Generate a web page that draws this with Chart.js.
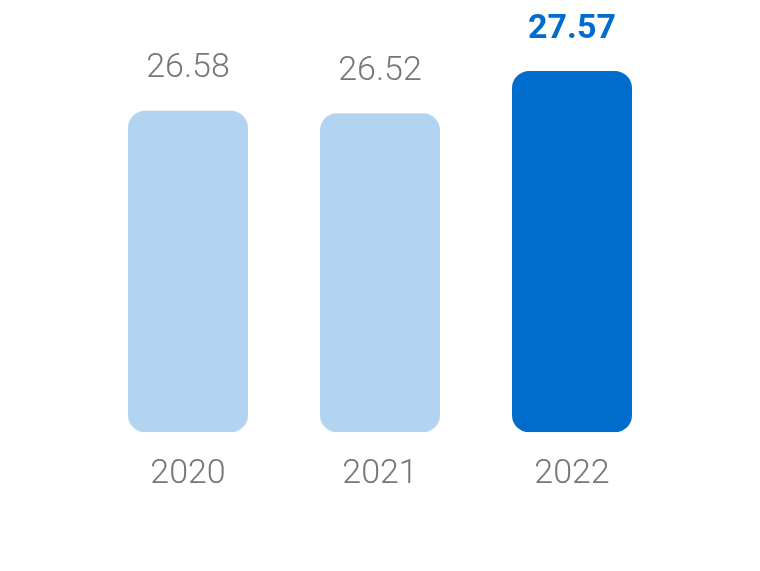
<!DOCTYPE html>
<html>
<head>
<meta charset="utf-8">
<script src="https://cdn.jsdelivr.net/npm/chart.js@4/dist/chart.umd.min.js"></script>
<style>
  html, body { margin: 0; padding: 0; background: #fff; }
  #wrap { width: 760px; height: 571px; }
</style>
</head>
<body>
<div id="wrap"><canvas id="chart"></canvas></div>
<script>
// --- données ---
const years = ['2020', '2021', '2022'];
const values = [26.58, 26.52, 27.57];
const valueLabels = ['26.58', '26.52', '27.57'];
const highlight = [false, false, true];

// axe tronqué (comme l'original)
const yMin = 18.57;
const yMax = 28.57;

const lightBlue = '#b3d4f0';
const darkBlue = '#006dcc';
const grey = '#767676';
const fontFamily = 'Roboto, "Open Sans", sans-serif';

// étiquettes au-dessus des barres
const valueLabelPlugin = {
  id: 'valueLabels',
  afterDatasetsDraw(chart) {
    const ctx = chart.ctx;
    const meta = chart.getDatasetMeta(0);
    ctx.save();
    ctx.textAlign = 'center';
    ctx.textBaseline = 'middle';
    meta.data.forEach((bar, i) => {
      ctx.fillStyle = highlight[i] ? darkBlue : grey;
      ctx.font = (highlight[i] ? 'bold ' : '300 ') + '34px ' + fontFamily;
      ctx.fillText(valueLabels[i], bar.x, bar.y - 42);
    });
    ctx.restore();
  }
};

new Chart(document.getElementById('chart'), {
  type: 'bar',
  data: {
    labels: years,
    datasets: [{
      data: values,
      base: yMin,
      backgroundColor: highlight.map(h => h ? darkBlue : lightBlue),
      borderRadius: 17,
      borderSkipped: false,
      barPercentage: 0.625,
      categoryPercentage: 1
    }]
  },
  options: {
    responsive: true,
    maintainAspectRatio: false,
    animation: false,
    layout: { padding: { top: 31, left: 92, right: 92, bottom: 62 } },
    scales: {
      y: { display: false, min: yMin, max: yMax },
      x: {
        grid: { display: false },
        border: { display: false },
        ticks: { color: grey, font: { family: fontFamily, size: 34, weight: '300' }, padding: 14 }
      }
    },
    plugins: { legend: { display: false }, tooltip: { enabled: false } }
  },
  plugins: [valueLabelPlugin]
});
</script>
</body>
</html>
